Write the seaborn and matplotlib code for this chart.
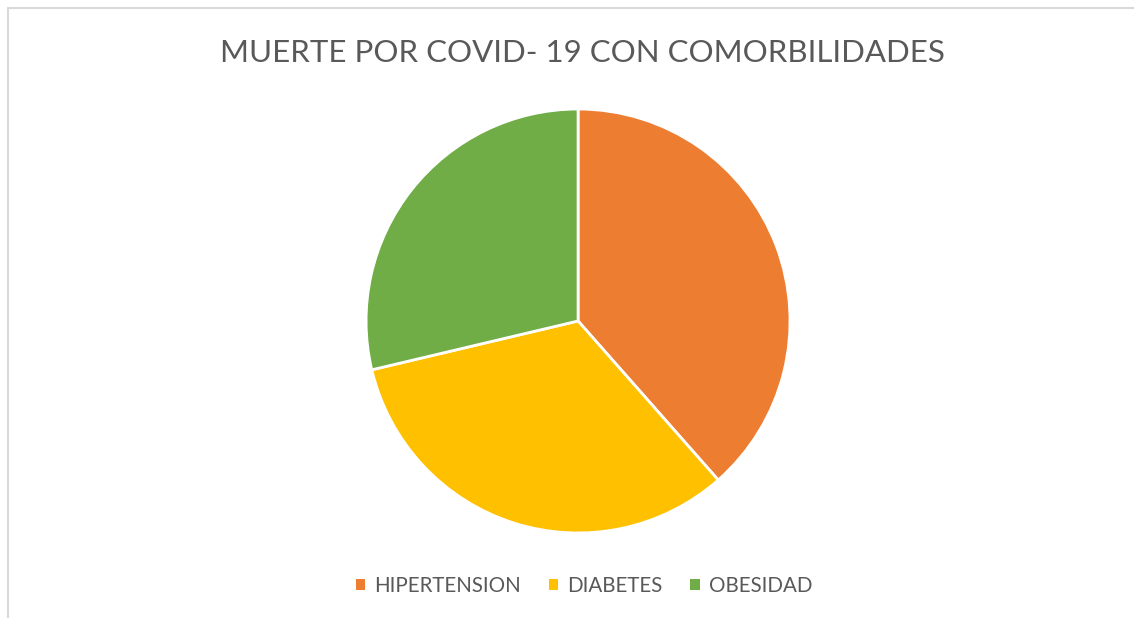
import matplotlib
matplotlib.use("Agg")
import matplotlib.pyplot as plt
import matplotlib.patches as mpatches
from matplotlib.lines import Line2D
import seaborn as sns

# data
categories = ["HIPERTENSION", "DIABETES", "OBESIDAD"]
values = [38.5, 32.8, 28.7]
colors = ["#ED7D31", "#FFC000", "#70AD47"]
title = "MUERTE POR COVID- 19 CON COMORBILIDADES"

sns.set_theme(style="white")
plt.rcParams["font.family"] = ["Lato", "DejaVu Sans"]

fig = plt.figure(figsize=(11.34, 6.18), dpi=100)
fig.patch.set_facecolor("white")

# frame lines (top and left), chart is cropped on the other sides
fig.add_artist(Line2D([8 / 1134, 1], [1 - 8 / 618] * 2, color="#d9d9d9", lw=1.5))
fig.add_artist(Line2D([8 / 1134] * 2, [0, 1 - 8 / 618], color="#d9d9d9", lw=1.5))

ax = fig.add_axes([0.3228, 0.1376, 0.3739, 0.686])
ax.pie(values, colors=colors, startangle=90, counterclock=False,
       radius=1, wedgeprops=dict(edgecolor="white", linewidth=2))
ax.set_xlim(-1.0, 1.0)
ax.set_ylim(-1.0, 1.0)
ax.set_aspect("equal")
ax.axis("off")

fig.text(582 / 1134, 1 - 53 / 618, title, ha="center", va="center",
         fontsize=22.5, color="#595959")

handles = [mpatches.Patch(facecolor=c, edgecolor="none", label=l)
           for c, l in zip(colors, categories)]
fig.legend(handles=handles, loc="center", bbox_to_anchor=(584 / 1134, 1 - 586 / 618),
           ncol=3, frameon=False, fontsize=14.8, labelcolor="#595959",
           handlelength=0.45, handleheight=0.45, handletextpad=0.45,
           columnspacing=1.35)

fig.savefig("out.png", dpi=100)
